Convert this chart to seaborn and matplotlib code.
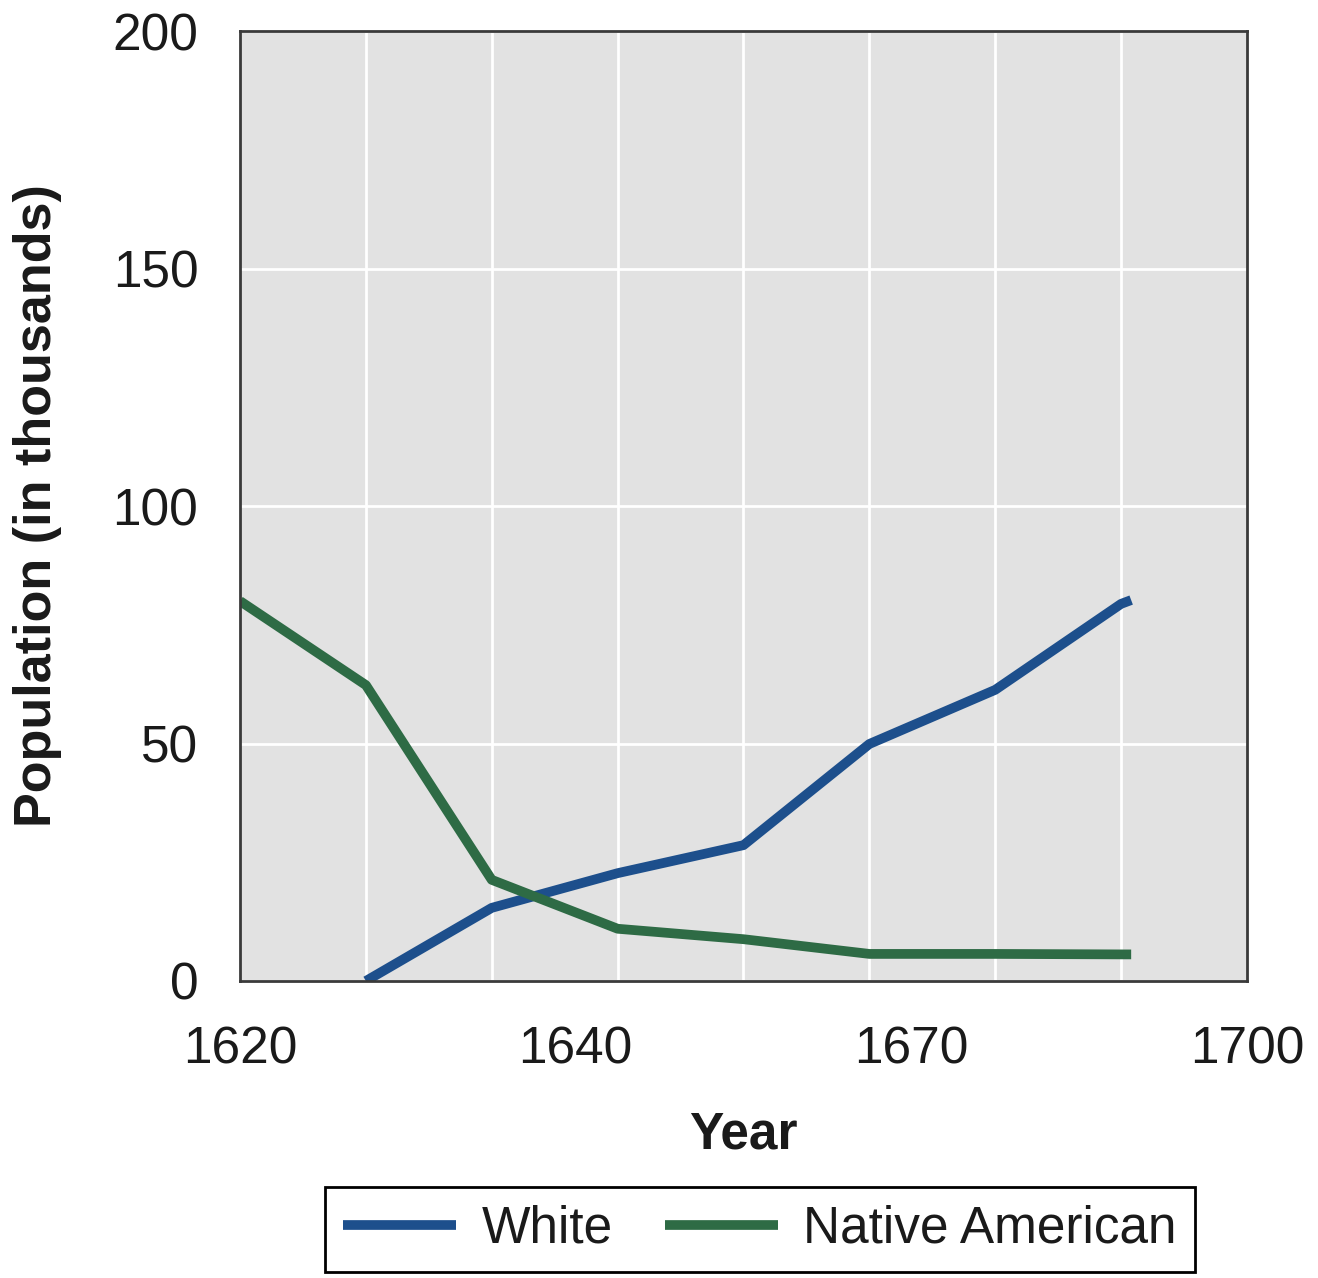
import pandas as pd
import matplotlib.pyplot as plt
from matplotlib.ticker import MultipleLocator
from matplotlib.lines import Line2D
import seaborn as sns

# Datos
years_native = [1620, 1630, 1640, 1650, 1660, 1670, 1680, 1690, 1690.8]
native = [80, 62.3, 21.3, 11, 8.8, 5.7, 5.7, 5.6, 5.6]
years_white = [1630, 1640, 1650, 1660, 1670, 1680, 1690, 1690.8]
white = [0, 15.4, 22.7, 28.6, 49.9, 61.3, 79.4, 80.2]

tick_pos = [1620, 1646.67, 1673.33, 1700]
tick_labels = ["1620", "1640", "1670", "1700"]
y_ticks = [0, 50, 100, 150, 200]

colores = {"White": "#1d4f8c", "Native American": "#2e6b45"}

df = pd.concat([
    pd.DataFrame({"Year": years_white, "Pop": white, "Group": "White"}),
    pd.DataFrame({"Year": years_native, "Pop": native, "Group": "Native American"}),
], ignore_index=True)

sns.set_style("darkgrid", {"axes.facecolor": "#e2e2e2", "grid.color": "white"})
plt.rcParams["font.family"] = ["Liberation Sans", "DejaVu Sans"]

fig = plt.figure(figsize=(13.18, 12.78), dpi=100)
ax = fig.add_axes([0.1821, 0.2324, 0.764, 0.7433])

sns.lineplot(data=df, x="Year", y="Pop", hue="Group", palette=colores,
             linewidth=7, ax=ax, legend=False, sort=False,
             solid_capstyle="butt")

ax.set_xlim(1620, 1700)
ax.set_ylim(0, 200)
ax.set_xticks(tick_pos)
ax.set_xticklabels(tick_labels)
ax.set_yticks(y_ticks)
ax.xaxis.set_minor_locator(MultipleLocator(10))
ax.grid(False)
ax.grid(True, axis="x", which="minor", color="white", linewidth=2)
ax.grid(True, axis="y", which="major", color="white", linewidth=2)

for s in ax.spines.values():
    s.set_visible(True)
    s.set_color("#3a3a3a")
    s.set_linewidth(2)

ax.tick_params(axis="both", which="major", direction="out", length=18, width=2,
               color="#3a3a3a", labelsize=37, labelcolor="#1a1a1a")
ax.tick_params(axis="x", which="major", pad=14)
ax.tick_params(axis="y", which="major", pad=12)
ax.tick_params(axis="x", which="minor", length=0)

ax.set_xlabel("Year", fontsize=37, fontweight="bold", labelpad=26, color="#1a1a1a")
ax.set_ylabel("Population (in thousands)", fontsize=37.5, fontweight="bold",
              labelpad=36, color="#1a1a1a")

handles = [Line2D([], [], color=colores["White"], linewidth=7, solid_capstyle="butt"),
           Line2D([], [], color=colores["Native American"], linewidth=7,
                  solid_capstyle="butt")]
leg = fig.legend(handles, ["White", "Native American"], loc="center",
                 bbox_to_anchor=(0.5767, 0.0383), ncol=2, fontsize=37,
                 frameon=True, fancybox=False, edgecolor="black",
                 facecolor="white", framealpha=1,
                 handlelength=2.2, handletextpad=0.5, columnspacing=1.0,
                 borderpad=0.35)
leg.get_frame().set_linewidth(2)
for t in leg.get_texts():
    t.set_color("#1a1a1a")

fig.savefig("out.png", dpi=100)
